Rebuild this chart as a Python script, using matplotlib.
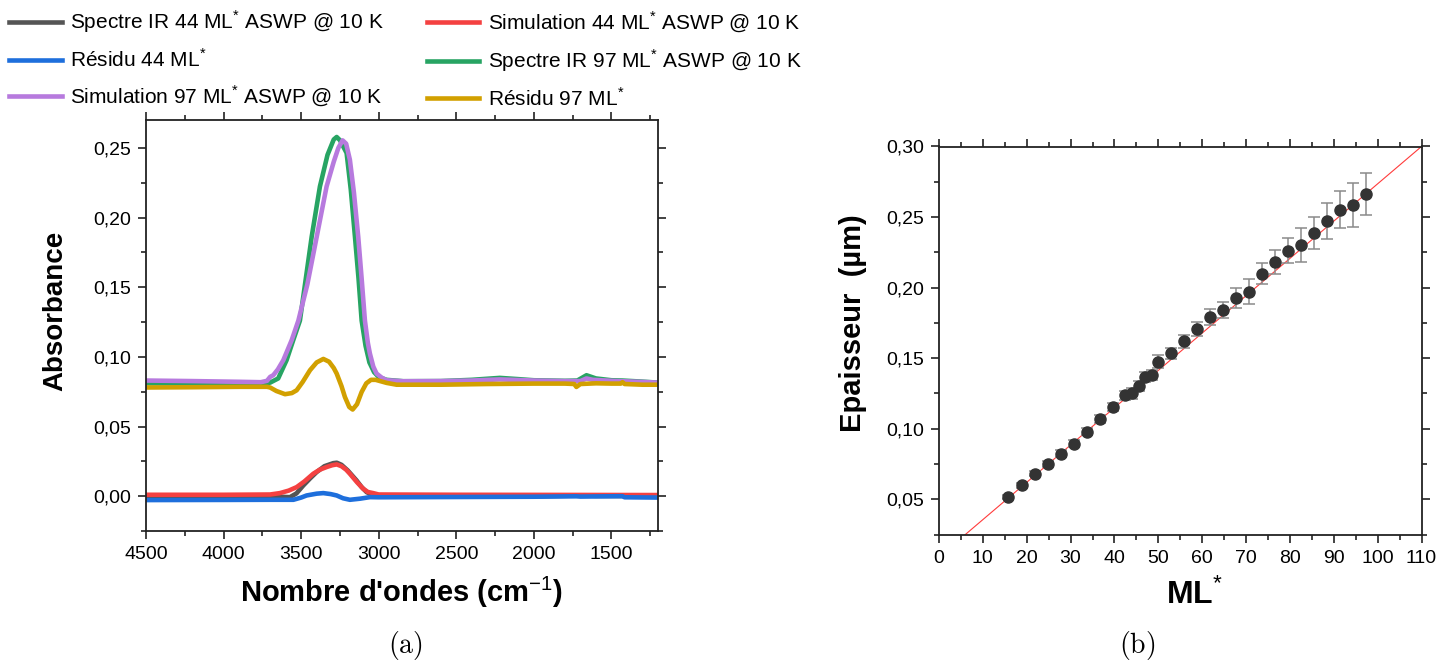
import numpy as np
import matplotlib
matplotlib.use('Agg')
import matplotlib.pyplot as plt
from matplotlib.lines import Line2D
from matplotlib.ticker import MultipleLocator, FuncFormatter

plt.rcParams['font.family'] = ['Liberation Sans', 'DejaVu Sans']
plt.rcParams['mathtext.fontset'] = 'custom'
plt.rcParams['mathtext.rm'] = 'Liberation Sans'

# --- (a) spectres IR ---
x_g44 = [4500, 4000, 3700, 3620, 3572, 3530, 3486, 3440, 3400, 3350, 3293, 3270, 3240, 3200,
         3143, 3110, 3078, 3040, 3000, 2500, 2000, 1660, 1600, 1200]
y_g44 = [0.0000, 0.0000, -0.0003, -0.0005, -0.0007, 0.0020, 0.0077, 0.0130, 0.0173, 0.0215,
         0.0237, 0.0240, 0.0225, 0.0185, 0.0113, 0.0065, 0.0029, 0.0008, 0.0000, 0.0000,
         0.0000, 0.0005, 0.0002, 0.0000]

x_s44 = [4500, 4000, 3700, 3637, 3580, 3529, 3480, 3422, 3380, 3336, 3300, 3271, 3240, 3210,
         3186, 3140, 3100, 3070, 3036, 3000, 2500, 1200]
y_s44 = [0.0010, 0.0010, 0.0012, 0.0022, 0.0040, 0.0065, 0.0105, 0.0161, 0.0190, 0.0209,
         0.0222, 0.0228, 0.0215, 0.0190, 0.0161, 0.0100, 0.0053, 0.0030, 0.0022, 0.0012,
         0.0010, 0.0008]

x_r44 = [4500, 4000, 3700, 3550, 3500, 3465, 3400, 3357, 3310, 3271, 3230, 3186, 3120, 3057,
         3000, 2500, 2000, 1726, 1700, 1430, 1415, 1200]
y_r44 = [-0.0028, -0.0027, -0.0026, -0.0026, -0.0010, 0.0005, 0.0018, 0.0022, 0.0015, 0.0005,
         -0.0015, -0.0026, -0.0018, -0.0007, -0.0008, -0.0006, -0.0004, -0.0001, -0.0003,
         0.0000, -0.0008, -0.0010]

x_g97 = [4500, 4200, 3900, 3760, 3700, 3648, 3594, 3551, 3508, 3432, 3379, 3330, 3290, 3271,
         3250, 3207, 3180, 3153, 3130, 3110, 3085, 3060, 3030, 3000, 2950, 2842, 2600, 2400,
         2220, 2100, 2000, 1800, 1720, 1661, 1600, 1500, 1430, 1300, 1200]
y_g97 = [0.0810, 0.0808, 0.0806, 0.0805, 0.0815, 0.0845, 0.0976, 0.1120, 0.1260, 0.1863,
         0.2223, 0.2450, 0.2560, 0.2578, 0.2555, 0.2463, 0.2200, 0.1860, 0.1560, 0.1260,
         0.1080, 0.0960, 0.0890, 0.0855, 0.0835, 0.0825, 0.0826, 0.0835, 0.0849, 0.0840,
         0.0832, 0.0828, 0.0830, 0.0868, 0.0845, 0.0832, 0.0830, 0.0822, 0.0815]

x_s97 = [4500, 4200, 3900, 3760, 3720, 3700, 3680, 3650, 3615, 3561, 3518, 3460, 3400, 3336,
         3290, 3260, 3233, 3210, 3186, 3160, 3132, 3110, 3089, 3070, 3057, 3035, 3014, 2980,
         2949, 2842, 2600, 2400, 2220, 2000, 1800, 1700, 1661, 1620, 1500, 1430, 1300, 1200]
y_s97 = [0.0830, 0.0826, 0.0821, 0.0818, 0.0828, 0.0856, 0.0868, 0.0910, 0.0976, 0.1120,
         0.1260, 0.1520, 0.1860, 0.2223, 0.2400, 0.2500, 0.2554, 0.2530, 0.2415, 0.2180,
         0.1860, 0.1560, 0.1260, 0.1100, 0.1024, 0.0930, 0.0880, 0.0850, 0.0832, 0.0825,
         0.0826, 0.0830, 0.0838, 0.0830, 0.0826, 0.0826, 0.0845, 0.0835, 0.0828, 0.0825,
         0.0820, 0.0815]

x_r97 = [4500, 4200, 3900, 3720, 3700, 3660, 3604, 3560, 3529, 3490, 3443, 3400, 3357, 3320,
         3290, 3271, 3240, 3218, 3190, 3168, 3140, 3110, 3080, 3050, 3020, 2949, 2885, 2600,
         2300, 2000, 1800, 1740, 1726, 1700, 1600, 1500, 1440, 1429, 1415, 1300, 1200]
y_r97 = [0.0780, 0.0782, 0.0785, 0.0785, 0.0780, 0.0755, 0.0732, 0.0740, 0.0760, 0.0820,
         0.0904, 0.0960, 0.0985, 0.0965, 0.0920, 0.0880, 0.0790, 0.0712, 0.0640, 0.0622,
         0.0660, 0.0748, 0.0810, 0.0835, 0.0835, 0.0813, 0.0800, 0.0800, 0.0805, 0.0808,
         0.0808, 0.0805, 0.0784, 0.0805, 0.0810, 0.0808, 0.0808, 0.0818, 0.0805, 0.0800,
         0.0800]

labels_a = ['Spectre IR 44 ML$^{*}$ ASWP @ 10 K', 'Simulation 44 ML$^{*}$ ASWP @ 10 K',
            'Résidu 44 ML$^{*}$', 'Spectre IR 97 ML$^{*}$ ASWP @ 10 K',
            'Simulation 97 ML$^{*}$ ASWP @ 10 K', 'Résidu 97 ML$^{*}$']
colors_a = ['#555555', '#f44141', '#1e6fdc', '#27a463', '#b77ade', '#d2a000']

# --- (b) epaisseur vs ML* ---
ml = [15.8, 18.9, 21.8, 24.8, 27.8, 30.7, 33.7, 36.7, 39.7, 42.5, 44.0, 45.7, 46.9, 48.6,
      49.9, 52.8, 55.8, 58.8, 61.7, 64.7, 67.7, 70.7, 73.6, 76.6, 79.6, 82.5, 85.5, 88.5,
      91.4, 94.4, 97.4]
epaisseur = [0.0517, 0.0599, 0.0682, 0.0748, 0.0823, 0.0894, 0.0979, 0.1066, 0.1153, 0.1236,
             0.1250, 0.1300, 0.1366, 0.1382, 0.1474, 0.1533, 0.1620, 0.1708, 0.1792, 0.1842,
             0.1927, 0.1972, 0.2097, 0.2179, 0.2262, 0.2302, 0.2387, 0.2472, 0.2552, 0.2585,
             0.2665]
erreur = [0.0015, 0.0017, 0.0019, 0.0021, 0.0023, 0.0025, 0.0027, 0.0029, 0.0031, 0.0033,
          0.0040, 0.0036, 0.0038, 0.0035, 0.0045, 0.0040, 0.0047, 0.0050, 0.0054, 0.0058,
          0.0070, 0.0088, 0.0074, 0.0086, 0.0088, 0.0120, 0.0113, 0.0130, 0.0130, 0.0156,
          0.0149]
fit_x = [0, 110]
fit_y = [0.0091, 0.3000]


def virgule(v, pos):
    return ('%.2f' % v).replace('.', ',')


def style_axes(ax):
    for s in ax.spines.values():
        s.set_linewidth(1.3)
        s.set_color('#222222')
    ax.tick_params(which='both', direction='out', top=True, right=True,
                   labeltop=False, labelright=False, color='#222222', width=1.2,
                   labelsize=14, pad=5)
    ax.tick_params(which='major', length=6)
    ax.tick_params(which='minor', length=3.5)


fig = plt.figure(figsize=(14.42, 6.61), dpi=100)

ax1 = fig.add_axes([146 / 1442, 1 - 531 / 661, 512 / 1442, 411 / 661])
series = [(x_g44, y_g44), (x_s44, y_s44), (x_r44, y_r44),
          (x_g97, y_g97), (x_s97, y_s97), (x_r97, y_r97)]
for (xs, ys), lab, c in zip(series, labels_a, colors_a):
    ax1.plot(xs, ys, color=c, lw=3.3, label=lab, solid_capstyle='round')
ax1.set_xlim(4500, 1200)
ax1.set_ylim(-0.025, 0.27)
ax1.xaxis.set_major_locator(MultipleLocator(500))
ax1.xaxis.set_minor_locator(MultipleLocator(250))
ax1.yaxis.set_major_locator(MultipleLocator(0.05))
ax1.yaxis.set_minor_locator(MultipleLocator(0.025))
ax1.yaxis.set_major_formatter(FuncFormatter(virgule))
style_axes(ax1)
ax1.set_ylabel('Absorbance', fontsize=20, fontweight='bold')
ax1.yaxis.set_label_coords(-0.151, 0.535)
ax1.set_xlabel("Nombre d'ondes (cm$^{-1}$)", fontsize=21, fontweight='bold', labelpad=8)

order = [0, 2, 4, 1, 3, 5]
leg_handles = [Line2D([], [], color=colors_a[i], lw=3.3) for i in order]
fig.legend(leg_handles, [labels_a[i] for i in order], loc='upper left',
           bbox_to_anchor=(-0.005, 1.012), ncol=2, frameon=False,
           prop={'size': 15}, handlelength=2.5, handletextpad=0.4,
           columnspacing=2.1, labelspacing=0.62, borderpad=0.3)

ax2 = fig.add_axes([939 / 1442, 1 - 534.5 / 661, 482.5 / 1442, 388 / 661])
ax2.plot(fit_x, fit_y, color='#ff3b3b', lw=0.8, zorder=1)
ax2.errorbar(ml, epaisseur, yerr=erreur, fmt='o', color='#333333', ms=8,
             ecolor='#8a8a8a', elinewidth=1.1, capsize=4, capthick=1.1, zorder=2)
ax2.set_xlim(0, 110)
ax2.set_ylim(0.025, 0.30)
ax2.xaxis.set_major_locator(MultipleLocator(10))
ax2.xaxis.set_minor_locator(MultipleLocator(5))
ax2.yaxis.set_major_locator(MultipleLocator(0.05))
ax2.yaxis.set_minor_locator(MultipleLocator(0.025))
ax2.yaxis.set_major_formatter(FuncFormatter(virgule))
style_axes(ax2)
ax2.set_ylabel('Epaisseur  (µm)', fontsize=21, fontweight='bold')
ax2.yaxis.set_label_coords(-0.149, 0.545)
ax2.set_xlabel('ML$^{*}$', fontsize=23, fontweight='bold')
ax2.xaxis.set_label_coords(0.53, -0.113)

fig.text(405 / 1442, 1 - 645 / 661, r'$\mathrm{(a)}$', ha='center', va='center',
         fontsize=20, math_fontfamily='cm')
fig.text(1137 / 1442, 1 - 645 / 661, r'$\mathrm{(b)}$', ha='center', va='center',
         fontsize=20, math_fontfamily='cm')

fig.savefig('out.png', dpi=100)
